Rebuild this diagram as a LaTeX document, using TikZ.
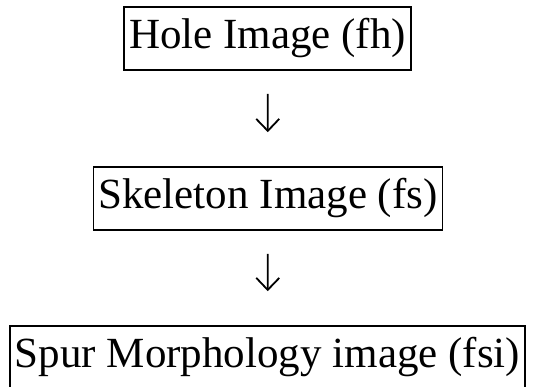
\documentclass[tikz,border=0pt]{standalone}
\usepackage{fontspec}
\setmainfont{Liberation Serif}
\usetikzlibrary{arrows.meta}

\begin{document}
\begin{tikzpicture}[
    x=1pt, y=1pt,
    box/.style={rectangle, draw, line width=1.6pt, inner xsep=5pt, minimum height=63pt,
                text height=30pt, text depth=9pt, font=\fontsize{43}{50}\selectfont},
    arrow/.style={-{Straight Barb[length=12pt, width=23pt, line width=1.8pt]}, line width=1.8pt,
                  shorten <=23pt, shorten >=34pt}
]
\useasboundingbox (0,0) rectangle (553,387);

% Images
\node[box] (hole) at (267.5, 348.5) {Hole Image (fh)};
\node[box] (skel) at (268, 188.5) {Skeleton Image (fs)};
\node[box] (spur) at (267.5, 29.5) {Spur Morphology image (fsi)};

% Arrows
\draw[arrow] (hole) -- (skel);
\draw[arrow] (skel) -- (spur);

\end{tikzpicture}
\end{document}
